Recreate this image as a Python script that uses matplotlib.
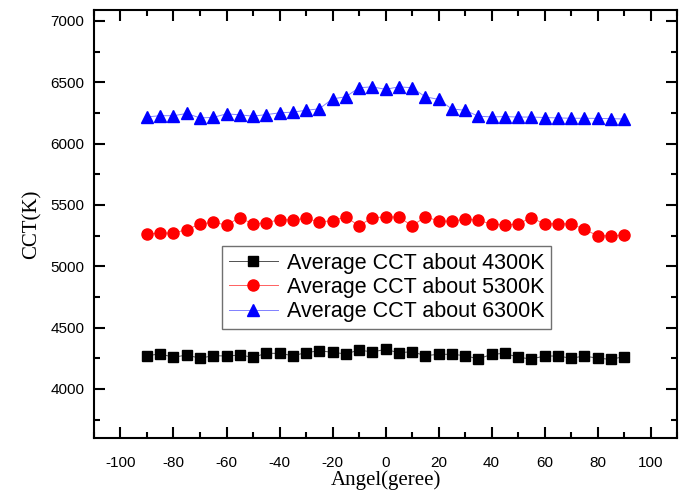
import matplotlib
matplotlib.use("Agg")
import matplotlib.pyplot as plt
from matplotlib.ticker import MultipleLocator

# angles (degree), one reading every 5 degrees
angle = list(range(-90, 95, 5))

cct_4300 = [4271, 4285, 4258, 4276, 4250, 4271, 4268, 4276, 4258, 4290,
            4290, 4271, 4295, 4311, 4298, 4285, 4317, 4301, 4322, 4295,
            4303, 4271, 4282, 4282, 4271, 4244, 4282, 4290, 4258, 4244,
            4268, 4268, 4250, 4268, 4250, 4241, 4263]
cct_5300 = [5262, 5270, 5270, 5299, 5343, 5359, 5335, 5397, 5343, 5356,
            5378, 5378, 5389, 5362, 5370, 5402, 5329, 5397, 5400, 5402,
            5329, 5402, 5370, 5365, 5384, 5375, 5343, 5337, 5343, 5397,
            5343, 5348, 5343, 5302, 5248, 5248, 5254]
cct_6300 = [6217, 6227, 6227, 6245, 6209, 6213, 6242, 6234, 6223, 6236,
            6250, 6256, 6271, 6283, 6364, 6381, 6455, 6462, 6442, 6462,
            6455, 6381, 6360, 6282, 6271, 6223, 6217, 6220, 6216, 6216,
            6212, 6209, 6206, 6206, 6205, 6203, 6200]

labels = ["Average CCT about 4300K", "Average CCT about 5300K",
          "Average CCT about 6300K"]

sans = ["Liberation Sans", "DejaVu Sans"]
serif = ["Liberation Serif", "DejaVu Serif"]

plt.rcParams["axes.unicode_minus"] = False

fig = plt.figure(figsize=(6.86, 4.91), dpi=100)
ax = fig.add_axes([0.137, 0.108, 0.850, 0.872])

ax.plot(angle, cct_4300, color="#505050", lw=0.7, marker="s", ms=7,
        mfc="black", mec="black", label=labels[0])
ax.plot(angle, cct_5300, color="#ff6060", lw=0.7, marker="o", ms=8,
        mfc="red", mec="red", label=labels[1])
ax.plot(angle, cct_6300, color="#8080ff", lw=0.7, marker="^", ms=9,
        mfc="blue", mec="blue", label=labels[2])

ax.set_xlim(-110, 110)
ax.set_ylim(3600, 7090)
ax.xaxis.set_major_locator(MultipleLocator(20))
ax.xaxis.set_minor_locator(MultipleLocator(10))
ax.yaxis.set_major_locator(MultipleLocator(500))
ax.yaxis.set_minor_locator(MultipleLocator(250))
ax.set_yticks(range(4000, 7001, 500))

ax.tick_params(which="both", direction="in", top=True, right=True, width=1.5)
ax.tick_params(which="major", length=8, labelsize=11)
ax.tick_params(axis="x", which="major", pad=13)
ax.tick_params(axis="y", which="major", pad=7)
ax.tick_params(which="minor", length=4.5)
for lab in ax.get_xticklabels() + ax.get_yticklabels():
    lab.set_family(sans)
for sp in ax.spines.values():
    sp.set_linewidth(1.5)

ax.set_xlabel("Angel(geree)", family=serif, fontsize=15, labelpad=0)
ax.set_ylabel("CCT(K)", family=serif, fontsize=15, labelpad=6)

leg = ax.legend(loc="upper left", bbox_to_anchor=(0.220, 0.448),
                prop={"family": sans, "size": 15.5}, fancybox=False,
                edgecolor="#707070", framealpha=1, handlelength=2.3,
                handletextpad=0.4, labelspacing=0.15, borderpad=0.3,
                borderaxespad=0)
leg.get_frame().set_linewidth(1.0)

fig.savefig("out.png", dpi=100)
